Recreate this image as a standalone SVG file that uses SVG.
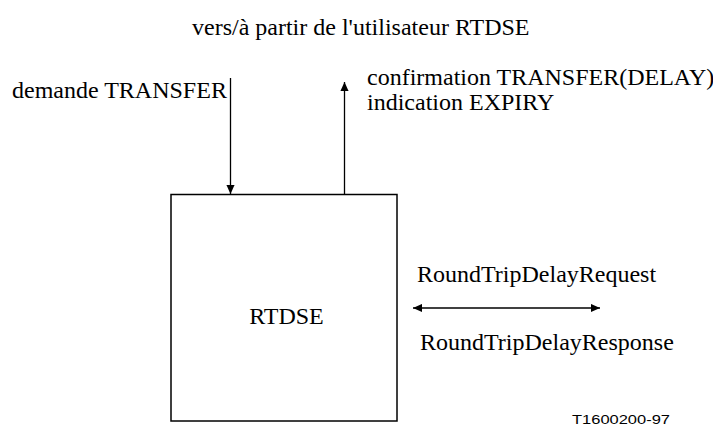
<svg xmlns="http://www.w3.org/2000/svg" width="713" height="428" viewBox="0 0 713 428">
<style>
.t{font-family:"Liberation Serif","Times New Roman",serif;font-size:24px;fill:#000}
.s{font-family:"Liberation Sans",Arial,sans-serif;font-size:13px;fill:#000}
.ln{stroke:#000;stroke-width:1.3;fill:none}
.box{fill:#fff;stroke:#000;stroke-width:1.5}
</style>
<defs>
<marker id="ah" viewBox="0 0 10 10" refX="10" refY="5" markerWidth="10" markerHeight="9" markerUnits="userSpaceOnUse" orient="auto-start-reverse">
<path d="M0,0.5 L10,5 L0,9.5 z" fill="#000"/>
</marker>
</defs>
<rect width="713" height="428" fill="#fff"/>
<text class="t" x="192" y="35">vers/à partir de l'utilisateur RTDSE</text>
<g id="rtdse">
<rect class="box" x="171" y="194.5" width="226" height="226.5"/>
<text class="t" x="286.5" y="324" text-anchor="middle">RTDSE</text>
</g>
<g id="connectors">
<line class="ln" x1="230.5" y1="78" x2="230.5" y2="194" marker-end="url(#ah)"/>
<line class="ln" x1="344.5" y1="194" x2="344.5" y2="82" marker-end="url(#ah)"/>
<line class="ln" x1="413" y1="308" x2="600" y2="308" marker-start="url(#ah)" marker-end="url(#ah)"/>
</g>
<g id="labels">
<text class="t" x="12" y="98">demande TRANSFER</text>
<text class="t" x="367" y="85">confirmation TRANSFER(DELAY)</text>
<text class="t" x="367" y="110">indication EXPIRY</text>
<text class="t" x="417" y="282">RoundTripDelayRequest</text>
<text class="t" x="420" y="350">RoundTripDelayResponse</text>
<text class="s" x="572" y="424" textLength="98" lengthAdjust="spacingAndGlyphs">T1600200-97</text>
</g>
</svg>
